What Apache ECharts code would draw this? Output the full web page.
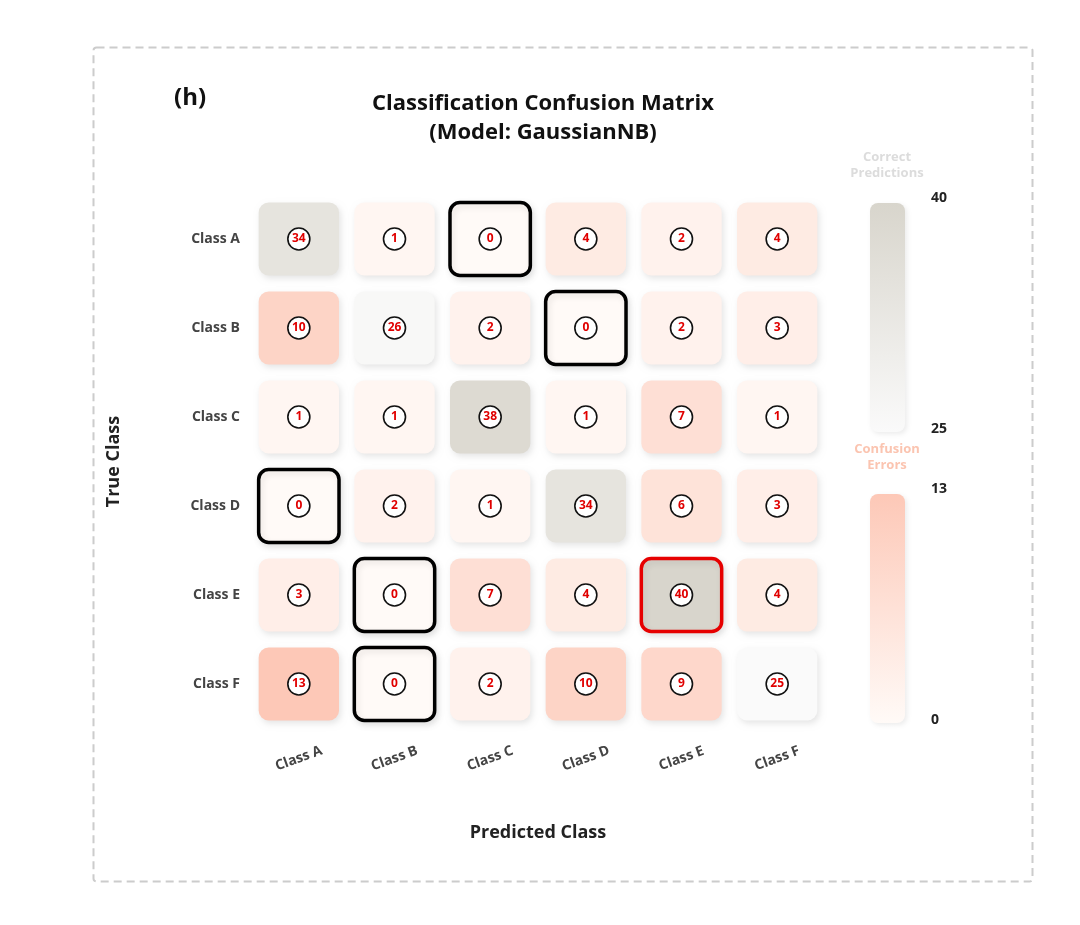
<!DOCTYPE html>
<html>
<head>
<meta charset="utf-8">
<script src="https://cdn.jsdelivr.net/npm/echarts@6/dist/echarts.min.js"></script>
<style>html,body{margin:0;padding:0;background:#fff;}#chart{width:1080px;height:925px;}</style>
</head>
<body>
<div id="chart"></div>
<script>
const classes = ['Class A', 'Class B', 'Class C', 'Class D', 'Class E', 'Class F'];
const rowA = [34, 1, 0, 4, 2, 4];
const rowB = [10, 26, 2, 0, 2, 3];
const rowC = [1, 1, 38, 1, 7, 1];
const rowD = [0, 2, 1, 34, 6, 3];
const rowE = [3, 0, 7, 4, 40, 4];
const rowF = [13, 0, 2, 10, 9, 25];
const correctRange = [25, 40];
const errorRange = [0, 13];

const matrix = [rowA, rowB, rowC, rowD, rowE, rowF];
const diagData = [], offData = [];
let diagMax = -Infinity;
matrix.forEach((row, i) => row.forEach((v, j) => {
  if (i === j) { diagData.push([j, i, v]); diagMax = Math.max(diagMax, v); }
  else offData.push([j, i, v]);
}));

const FONT = '"Comic Sans MS", "Open Sans", sans-serif';
const diagColors = ['#fafafa', '#d8d5cc'];
const errColors = ['#fffaf7', '#fdc8b7'];

function renderCell(params, api) {
  const v = api.value(2);
  const c = api.coord([api.value(0), api.value(1)]);
  const s = api.size([1, 1]);
  const w = s[0] * 0.84, h = s[1] * 0.82;
  const isDiag = params.seriesIndex === 0;
  let stroke = null, lw = 0;
  if (v === 0) { stroke = '#000'; lw = 3.5; }
  else if (isDiag && v === diagMax) { stroke = '#e60000'; lw = 3.5; }
  return {
    type: 'group',
    children: [
      { type: 'rect', shape: { x: c[0] - w / 2, y: c[1] - h / 2, width: w, height: h, r: 10 },
        style: { fill: api.visual('color'), stroke: stroke, lineWidth: lw,
          shadowBlur: 6, shadowOffsetX: 2, shadowOffsetY: 3, shadowColor: 'rgba(0,0,0,0.10)' } },
      { type: 'circle', shape: { cx: c[0], cy: c[1], r: 11 },
        style: { fill: '#fff', stroke: '#111', lineWidth: 1.6 } },
      { type: 'text', style: { text: String(v), x: c[0], y: c[1], align: 'center', verticalAlign: 'middle',
          fill: '#e00000', font: 'bold 12px ' + FONT } }
    ]
  };
}

function barGraphic(y, colors, topVal, botVal) {
  return [
    { type: 'rect', left: 870, top: y, shape: { width: 35, height: 229, r: 8 },
      style: { fill: new echarts.graphic.LinearGradient(0, 0, 0, 1, [{ offset: 0, color: colors[1] }, { offset: 1, color: colors[0] }]),
        shadowBlur: 5, shadowOffsetX: 2, shadowOffsetY: 2, shadowColor: 'rgba(0,0,0,0.08)' } },
    { type: 'text', left: 931, top: y - 12, style: { text: String(topVal), font: 'bold 14px ' + FONT, fill: '#222' } },
    { type: 'text', left: 931, top: y + 219, style: { text: String(botVal), font: 'bold 14px ' + FONT, fill: '#222' } }
  ];
}

const chart = echarts.init(document.getElementById('chart'));
chart.setOption({
  backgroundColor: '#fff',
  animation: false,
  textStyle: { fontFamily: FONT },
  title: {
    text: 'Classification Confusion Matrix\n(Model: GaussianNB)',
    left: 538, top: 84, textAlign: 'center',
    textStyle: { fontSize: 22, fontWeight: 'bold', color: '#111', lineHeight: 29, fontFamily: FONT }
  },
  grid: { left: 251, top: 194.5, width: 574, height: 534 },
  xAxis: {
    type: 'category', data: classes,
    axisLine: { show: false }, axisTick: { show: false }, splitLine: { show: false },
    axisLabel: { rotate: 20, align: 'center', verticalAlign: 'middle', margin: 30,
      fontSize: 14, fontWeight: 'bold', color: '#444', fontFamily: FONT },
    name: 'Predicted Class', nameLocation: 'middle', nameGap: 95,
    nameTextStyle: { fontSize: 18, fontWeight: 'bold', color: '#222', fontFamily: FONT }
  },
  yAxis: {
    type: 'category', data: classes, inverse: true,
    axisLine: { show: false }, axisTick: { show: false }, splitLine: { show: false },
    axisLabel: { margin: 11, fontSize: 14, fontWeight: 'bold', color: '#444', fontFamily: FONT },
    name: 'True Class', nameLocation: 'middle', nameGap: 128,
    nameTextStyle: { fontSize: 18, fontWeight: 'bold', color: '#222', fontFamily: FONT }
  },
  visualMap: [
    { type: 'continuous', show: false, seriesIndex: 0, dimension: 2, min: correctRange[0], max: correctRange[1], inRange: { color: diagColors } },
    { type: 'continuous', show: false, seriesIndex: 1, dimension: 2, min: errorRange[0], max: errorRange[1], inRange: { color: errColors } }
  ],
  graphic: [
    { type: 'rect', left: 91, top: 45, shape: { width: 939, height: 834, r: 3 },
      style: { fill: 'none', stroke: '#cccccc', lineWidth: 2, lineDash: [8, 5] } },
    { type: 'text', left: 174, top: 86, style: { text: '(h)', font: 'bold 24px ' + FONT, fill: '#111' } },
    { type: 'text', x: 887, y: 149, style: { text: 'Correct\nPredictions', align: 'center', font: 'bold 13px ' + FONT, fill: '#dcdcdc', lineHeight: 16 } },
    { type: 'text', x: 887, y: 441, style: { text: 'Confusion\nErrors', align: 'center', font: 'bold 13px ' + FONT, fill: '#fbc4b0', lineHeight: 16 } },
    ...barGraphic(203, diagColors, correctRange[1], correctRange[0]),
    ...barGraphic(494, errColors, errorRange[1], errorRange[0])
  ],
  series: [
    { type: 'custom', renderItem: renderCell, data: diagData, encode: { x: 0, y: 1 } },
    { type: 'custom', renderItem: renderCell, data: offData, encode: { x: 0, y: 1 } }
  ]
});
</script>
</body>
</html>
